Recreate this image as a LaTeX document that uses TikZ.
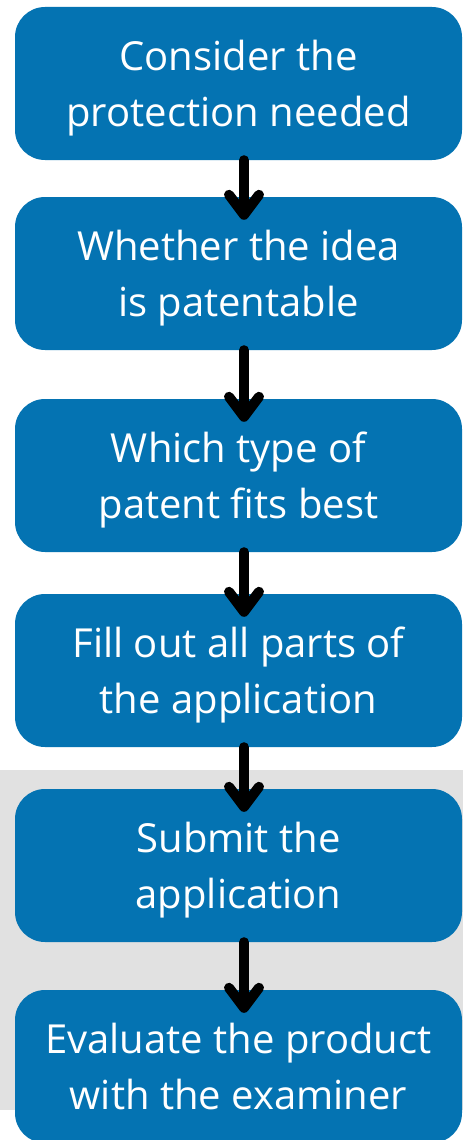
\documentclass[tikz,border=0pt]{standalone}
\usepackage{fontspec}
\setmainfont{Open Sans}
\usetikzlibrary{arrows.meta, positioning}
\definecolor{boxblue}{HTML}{0473B2}
\definecolor{bandgray}{HTML}{E1E1E1}
\tikzset{
    stepbox/.style={
        rectangle, rounded corners=30pt, fill=boxblue, text=white,
        minimum width=447pt, minimum height=153pt, align=center,
        inner sep=0pt, text depth=0pt, font=\fontsize{40}{56}\selectfont
    },
    flow/.style={
        line width=10pt, line cap=round,
        -{Straight Barb[length=20pt, width=30pt, round]},
        shorten >=-23pt
    }
}

\begin{document}
\begin{tikzpicture}[x=1pt, y=-1pt]
    \useasboundingbox (0,0) rectangle (463,1140);
    % grey band behind the last two steps
    \fill[bandgray] (0,770) rectangle (463,1110);
    \def \cx {238.5}
    \foreach \y/\t [count=\i] in {
        83.5/{Consider the\\protection needed},
        273.5/{Whether the idea\\is patentable},
        475.5/{Which type of\\patent fits best},
        670.5/{Fill out all parts of\\the application},
        865.5/{Submit the\\application},
        1066.5/{Evaluate the product\\with the examiner}}{
    \node[stepbox] (s\i) at (\cx,\y) {\t};
    }
    \foreach \i/\j in {1/2,2/3,3/4,4/5,5/6}{
    \draw[flow] ([xshift=5.5pt]s\i.south) -- ([xshift=5.5pt]s\j.north);
    }
\end{tikzpicture}
\end{document}
